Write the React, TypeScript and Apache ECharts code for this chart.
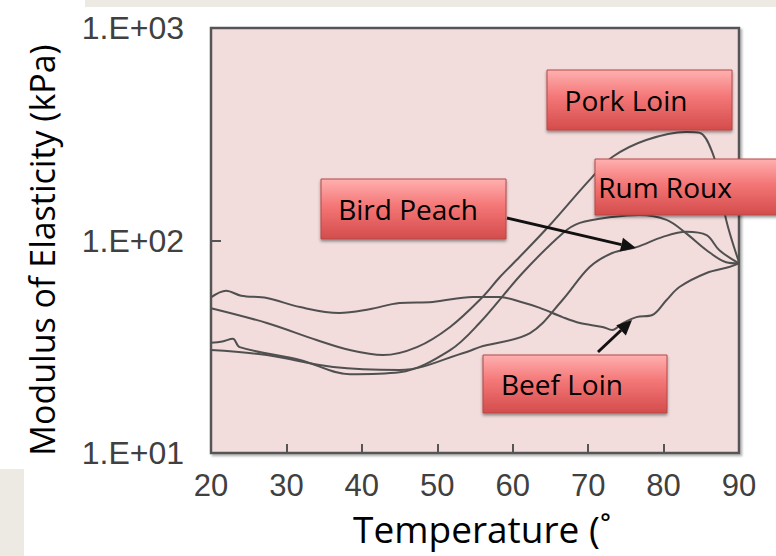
import React, { useEffect, useRef } from "react";
import * as echarts from "echarts";

const xTicks = [20, 30, 40, 50, 60, 70, 80, 90];
const yLabels = ["1.E+01", "1.E+02", "1.E+03"];

const porkLoin: [number, number][] = [
  [20, 48], [27.4, 40.9], [34, 34], [38.4, 30.5], [42.8, 28.9], [47.3, 31.5], [51.7, 39.2],
  [56, 54.2], [58.3, 67.3], [60.9, 83.6], [64.9, 118], [70.2, 193], [73.2, 247], [77.7, 297],
  [83, 324], [84.8, 321], [86.5, 258], [87.4, 190], [88.3, 125], [90, 79],
];
const rumRoux: [number, number][] = [
  [20, 33], [21.5, 33.5], [22.9, 34.5], [23.8, 31.5], [31.8, 27.4], [38.4, 23.5], [45, 24],
  [51.7, 30.5], [55.6, 40.9], [61.3, 70.3], [66.6, 108], [68.9, 121], [73.2, 129], [76.8, 132],
  [80.4, 125], [83, 108], [85.7, 90], [88.3, 79], [90, 78],
];
const birdPeach: [number, number][] = [
  [20, 30.5], [27.4, 28.9], [36.2, 25.4], [45, 24.6], [53.9, 29.9], [55.6, 31.5], [62.3, 36.7],
  [66.6, 52.5], [70.2, 75], [73.2, 87.3], [76.4, 93.1], [79.9, 104], [83, 110], [85.7, 106],
  [87.4, 90], [90, 78],
];
const beefLoin: [number, number][] = [
  [20, 54], [22, 58], [24, 55], [27.4, 53.6], [31.8, 48.6], [37, 45.6], [41, 47.5], [45, 50.8],
  [49.4, 51.4], [54.7, 54.2], [58.3, 54.2], [61, 51.5], [63.6, 48.2], [66.6, 43.6],
  [68.9, 40.9], [71.9, 39.2], [73.2, 37.9], [74.6, 40.9], [76.4, 43.6], [78.5, 44.6], [80.4, 52.5],
  [82.1, 60.4], [85.7, 70.3], [88.7, 75], [90, 78],
];

const seriesNames = ["Pork Loin", "Rum Roux", "Bird Peach", "Beef Loin"];
const seriesData = [porkLoin, rumRoux, birdPeach, beefLoin];

const boxGradient = new echarts.graphic.LinearGradient(0, 0, 0, 1, [
  { offset: 0, color: "#FFB0B0" },
  { offset: 0.45, color: "#F47676" },
  { offset: 1, color: "#D44C4C" },
]);

function labelBox(x: number, y: number, w: number, h: number, text: string, tx: number) {
  return {
    type: "group",
    z: 100,
    children: [
      {
        type: "rect",
        shape: { x, y, width: w, height: h },
        style: {
          fill: boxGradient,
          stroke: "#B84848",
          lineWidth: 1,
          shadowBlur: 3,
          shadowOffsetY: 2,
          shadowColor: "rgba(0,0,0,0.4)",
        },
        z: 100,
      },
      {
        type: "text",
        x: tx,
        y: y + h / 2,
        style: {
          text,
          fill: "#000",
          font: "28px 'Open Sans'",
          align: "center",
          verticalAlign: "middle",
        },
        z: 101,
      },
    ],
  };
}

function arrow(x1: number, y1: number, x2: number, y2: number) {
  const ang = Math.atan2(y2 - y1, x2 - x1);
  const L = 15;
  const W = 7;
  const bx = x2 - L * Math.cos(ang);
  const by = y2 - L * Math.sin(ang);
  const px = -Math.sin(ang) * W;
  const py = Math.cos(ang) * W;
  return [
    {
      type: "line",
      z: 100,
      shape: { x1, y1, x2: bx, y2: by },
      style: { stroke: "#111", lineWidth: 3 },
    },
    {
      type: "polygon",
      z: 100,
      shape: { points: [[x2, y2], [bx + px, by + py], [bx - px, by - py]] },
      style: { fill: "#111" },
    },
  ];
}

export default function App() {
  const ref = useRef<HTMLDivElement>(null);
  useEffect(() => {
    document.body.style.margin = "0";
    const chart = echarts.init(ref.current!, undefined, { renderer: "svg" });
    chart.setOption({
      animation: false,
      backgroundColor: "#ffffff",
      grid: {
        left: 211,
        right: 37,
        top: 28,
        bottom: 103,
        show: true,
        backgroundColor: "#F2DCDC",
        borderColor: "#555",
        borderWidth: 2.5,
        shadowColor: "rgba(0,0,0,0.3)",
        shadowBlur: 2,
        shadowOffsetX: 2,
        shadowOffsetY: 2,
      },
      xAxis: {
        type: "value",
        min: 20,
        max: 90,
        interval: 10,
        axisLine: { show: false },
        axisTick: { show: true, inside: true, length: 9, lineStyle: { color: "#555", width: 2 } },
        splitLine: { show: false },
        axisLabel: {
          color: "#404040",
          fontSize: 31,
          fontFamily: "'Liberation Sans', Arial",
          margin: 17,
          customValues: xTicks,
        },
      },
      yAxis: {
        type: "log",
        logBase: 10,
        min: 10,
        max: 1000,
        axisLine: { show: false },
        axisTick: { show: true, inside: true, length: 10, lineStyle: { color: "#555", width: 2 } },
        splitLine: { show: false },
        axisLabel: {
          color: "#404040",
          fontSize: 32,
          fontFamily: "'Liberation Sans', Arial",
          margin: 27,
          formatter: (v: number) => yLabels[Math.round(Math.log10(v)) - 1] ?? "",
        },
      },
      series: seriesData.map((d, i) => ({
        name: seriesNames[i],
        type: "line",
        data: d,
        smooth: 0.35,
        showSymbol: false,
        lineStyle: { color: "#505050", width: 2 },
        z: 5,
      })),
      graphic: [
        { type: "rect", z: 0, shape: { x: 85, y: 0, width: 691, height: 7 }, style: { fill: "#ECEAE2" } },
        { type: "rect", z: 0, shape: { x: 0, y: 469, width: 24, height: 87 }, style: { fill: "#ECEAE2" } },
        {
          type: "text",
          z: 50,
          x: 42,
          y: 250,
          rotation: Math.PI / 2,
          style: {
            text: "Modulus of Elasticity (kPa)",
            fill: "#000",
            font: "34px 'Open Sans'",
            align: "center",
            verticalAlign: "middle",
          },
        },
        {
          type: "text",
          z: 50,
          x: 482,
          y: 528,
          style: {
            text: "Temperature (\u02da",
            fill: "#000",
            font: "37px 'Open Sans'",
            align: "center",
            verticalAlign: "middle",
          },
        },
        labelBox(547, 70, 185, 60, "Pork Loin", 626),
        labelBox(595, 159, 185, 56, "Rum Roux", 665),
        labelBox(321, 179, 185, 60, "Bird Peach", 408),
        labelBox(483, 355, 184, 58, "Beef Loin", 562),
        ...arrow(507, 218, 636, 248),
        ...arrow(598, 352, 632, 320),
      ],
    });
    return () => chart.dispose();
  }, []);
  return (
    <div
      ref={ref}
      style={{ position: "fixed", left: 0, top: 0, width: 776, height: 556 }}
    />
  );
}
